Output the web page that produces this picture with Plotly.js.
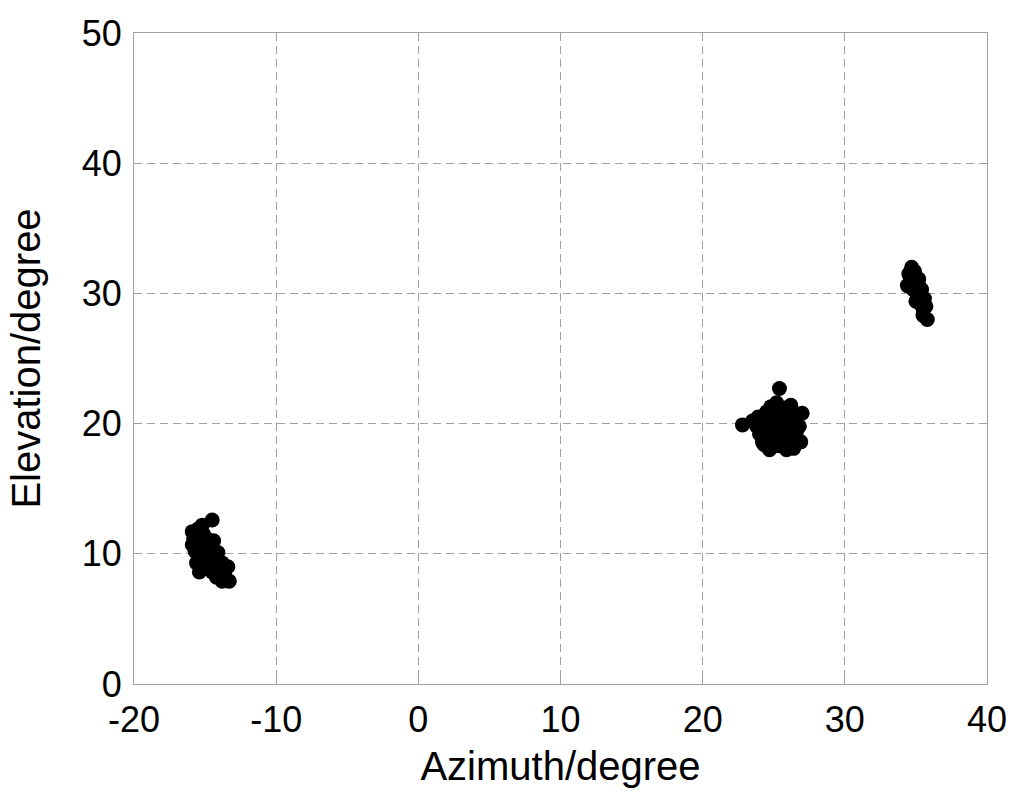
<!DOCTYPE html>
<html><head><meta charset="utf-8">
<script src="https://cdn.plot.ly/plotly-3.0.1.min.js"></script>
<style>html,body{margin:0;padding:0;background:#fff;}#chart{width:1024px;height:808px;}</style>
</head><body><div id="chart"></div>
<script>
// Cluster 1 (near azimuth -15, elevation 10)
const az1 = [-15.9,-15.8,-15.9,-15.7,-15.5,-15.2,-15.4,-15.1,-14.5,-14.8,-15.0,-15.3,-15.6,-15.4,-14.9,-14.6,-14.4,-14.7,-14.3,-14.1,-14.5,-14.0,-13.8,-13.9,-13.6,-13.4,-13.3,-13.8,-14.2,-15.2,-14.8,-15.6,-15.0,-14.6,-14.2];
const el1 = [11.7,11.2,10.7,10.2,11.9,12.2,11.0,11.5,12.6,11.1,10.5,9.8,9.3,8.6,9.6,10.2,11.0,9.0,9.5,10.1,8.6,8.9,9.3,8.3,8.7,9.0,7.9,7.9,8.2,10.1,10.7,10.6,9.1,9.6,8.9];
// Cluster 2 (near azimuth 25, elevation 20)
const az2 = [22.8,23.5,23.9,24.2,24.5,24.8,25.2,25.4,25.8,26.2,26.5,27.0,26.8,26.9,26.4,25.9,25.3,24.7,24.2,24.0,24.6,25.0,25.5,25.9,26.1,25.2,24.8,25.7,26.6,24.4,23.8,25.5,26.0,24.3,26.3];
const el2 = [19.9,20.2,20.5,19.6,20.9,21.3,21.6,22.7,21.2,21.4,20.6,20.8,19.8,18.6,18.1,18.0,18.3,18.0,18.6,19.2,19.5,20.2,19.7,20.1,19.3,19.0,18.9,18.8,19.4,20.3,19.8,20.8,20.4,18.4,18.8];
// Cluster 3 (near azimuth 35, elevation 30)
const az3 = [34.4,34.5,34.7,34.6,34.9,35.0,34.8,35.2,35.1,35.4,35.0,35.3,35.6,35.5,35.8,35.5,35.7,34.7,35.2];
const el3 = [30.6,31.5,32.0,31.2,31.7,30.9,30.3,30.6,29.9,30.3,29.4,29.2,29.6,28.8,28.0,28.3,29.0,30.8,31.1];

const xTicks = [-20,-10,0,10,20,30,40];
const yTicks = [0,10,20,30,40,50];

const az = az1.concat(az2, az3);
const el = el1.concat(el2, el3);

const trace = {
  x: az, y: el, mode: 'markers', type: 'scatter',
  marker: {color: '#000', size: 15, line: {width: 0}},
  hoverinfo: 'skip', showlegend: false
};

const FONT = 'Liberation Sans, Arial, sans-serif';
const axisCommon = {
  showline: true, mirror: true, linecolor: '#a0a0a0', linewidth: 1,
  showgrid: true, gridcolor: '#a0a0a0', griddash: '8px,5px', gridwidth: 1,
  ticks: 'inside', ticklen: 6, tickcolor: '#a0a0a0',
  zeroline: false, automargin: false,
  tickfont: {family: FONT, size: 36, color: '#000'}
};

const layout = {
  width: 1024, height: 808,
  margin: {l: 134, r: 37, t: 33, b: 124},
  paper_bgcolor: '#fff', plot_bgcolor: '#fff',
  xaxis: Object.assign({}, axisCommon, {
    range: [-20, 40], tickvals: xTicks, ticktext: xTicks.map(String),
    ticklabelstandoff: 4,
    title: {text: 'Azimuth/degree', font: {family: FONT, size: 40, color: '#000'}, standoff: 12}
  }),
  yaxis: Object.assign({}, axisCommon, {
    range: [0, 50], tickvals: yTicks, ticktext: yTicks.map(String),
    ticklabelstandoff: 4,
    title: {text: 'Elevation/degree', font: {family: FONT, size: 40, color: '#000'}, standoff: 28}
  })
};

Plotly.newPlot('chart', [trace], layout, {displayModeBar: false, staticPlot: true});
</script></body></html>
